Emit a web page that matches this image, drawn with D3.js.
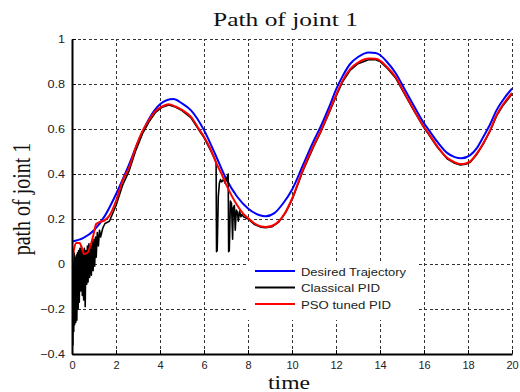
<!DOCTYPE html>
<html><head><meta charset="utf-8">
<script src="https://cdn.jsdelivr.net/npm/d3@7"></script>
<style>body{margin:0;background:#fff}svg{display:block}</style>
</head><body>
<svg id="c" width="520" height="392"></svg>
<script>
const titleText = "Path of joint 1";
const xLabel = "time";
const yLabel = "path of joint 1";
const seriesNames = ["Desired Trajectory", "Classical PID", "PSO tuned PID"];
const xTicks = [0,2,4,6,8,10,12,14,16,18,20];
const yTicks = [-0.4,-0.2,0,0.2,0.4,0.6,0.8,1];

const desired = [[0,0.10],[0.5,0.115],[1.0,0.15],[1.5,0.215],[2.0,0.31],[2.5,0.42],[3.0,0.54],[3.5,0.645],[4.0,0.71],[4.3,0.728],[4.6,0.733],[5.0,0.714],[5.4,0.684],[6.0,0.595],[6.5,0.49],[7.0,0.38],[7.5,0.30],[8.0,0.247],[8.5,0.218],[8.8,0.212],[9.2,0.226],[9.6,0.27],[10.0,0.33],[10.5,0.44],[11.0,0.55],[11.3,0.61],[11.7,0.70],[12.0,0.775],[12.3,0.835],[12.65,0.89],[13.0,0.92],[13.5,0.94],[13.8,0.938],[14.0,0.929],[14.3,0.90],[14.7,0.85],[15.1,0.78],[15.5,0.71],[16.0,0.625],[16.2,0.598],[16.6,0.544],[17.05,0.494],[17.4,0.475],[17.7,0.47],[18.1,0.484],[18.4,0.515],[18.7,0.566],[19.0,0.62],[19.3,0.684],[19.6,0.73],[20.0,0.78]];

const classical = [[0,0.0],[0.02,0.05],[0.04,-0.36],[0.06,0.04],[0.08,-0.3],[0.1,0.05],[0.12,-0.27],[0.14,0.03],[0.17,-0.26],[0.2,0.04],[0.22,-0.25],[0.25,0.05],[0.28,-0.2],[0.3,0.06],[0.33,-0.17],[0.36,0.07],[0.4,-0.12],[0.43,0.08],[0.47,-0.14],[0.5,0.06],[0.53,-0.16],[0.56,0.07],[0.6,-0.19],[0.63,0.06],[0.67,-0.09],[0.7,0.08],[0.73,-0.08],[0.77,0.09],[0.8,-0.06],[0.84,0.08],[0.88,-0.05],[0.92,0.1],[0.96,-0.03],[1.0,0.11],[1.03,-0.01],[1.07,0.12],[1.1,0.03],[1.15,0.14],[1.2,0.08],[1.25,0.15],[1.3,0.12],[1.4,0.16],[1.5,0.18],[1.7,0.19],[2.0,0.26],[2.3,0.35],[2.6,0.415],[2.9,0.505],[3.2,0.578],[3.5,0.632],[3.8,0.674],[4.1,0.697],[4.4,0.707],[4.7,0.698],[5.0,0.682],[5.4,0.651],[5.8,0.591],[6.0,0.562],[6.3,0.505],[6.5,0.465],[6.55,0.45],[6.57,0.055],[6.6,0.06],[6.65,0.30],[6.7,0.36],[6.75,0.375],[6.8,0.365],[6.85,0.37],[6.9,0.38],[6.95,0.36],[7.0,0.37],[7.05,0.385],[7.1,0.40],[7.12,0.055],[7.15,0.06],[7.2,0.28],[7.25,0.27],[7.3,0.11],[7.33,0.25],[7.38,0.26],[7.42,0.15],[7.47,0.24],[7.52,0.23],[7.56,0.19],[7.62,0.235],[7.68,0.21],[7.72,0.22],[7.8,0.21],[8.0,0.2],[8.3,0.175],[8.6,0.163],[8.8,0.161],[9.1,0.166],[9.4,0.186],[9.7,0.226],[10.0,0.285],[10.5,0.415],[11.0,0.525],[11.3,0.585],[11.7,0.675],[12.0,0.745],[12.3,0.81],[12.65,0.862],[13.0,0.89],[13.5,0.909],[13.8,0.908],[14.0,0.9],[14.3,0.873],[14.7,0.828],[15.1,0.758],[15.5,0.688],[16.0,0.605],[16.2,0.578],[16.6,0.52],[17.05,0.468],[17.4,0.448],[17.65,0.44],[17.9,0.443],[18.1,0.452],[18.4,0.487],[18.7,0.534],[19.0,0.59],[19.3,0.658],[19.6,0.706],[20.0,0.755]];

const pso = [[0,0.0],[0.1,0.07],[0.2,0.093],[0.35,0.093],[0.45,0.07],[0.55,0.045],[0.7,0.05],[0.85,0.085],[1.0,0.14],[1.1,0.178],[1.3,0.188],[1.5,0.195],[1.7,0.215],[2.0,0.28],[2.3,0.37],[2.6,0.43],[2.9,0.52],[3.2,0.59],[3.5,0.64],[3.8,0.68],[4.1,0.70],[4.4,0.71],[4.7,0.70],[5.0,0.685],[5.4,0.655],[5.8,0.595],[6.0,0.566],[6.3,0.51],[6.55,0.45],[6.8,0.40],[7.0,0.355],[7.25,0.305],[7.5,0.262],[7.8,0.222],[8.0,0.204],[8.3,0.18],[8.6,0.167],[8.8,0.165],[9.1,0.17],[9.4,0.19],[9.7,0.23],[10.0,0.29],[10.5,0.42],[11.0,0.53],[11.3,0.59],[11.7,0.68],[12.0,0.75],[12.3,0.815],[12.65,0.867],[13.0,0.895],[13.5,0.913],[13.8,0.912],[14.0,0.904],[14.3,0.877],[14.7,0.832],[15.1,0.762],[15.5,0.692],[16.0,0.609],[16.2,0.582],[16.6,0.524],[17.05,0.472],[17.4,0.452],[17.65,0.444],[17.9,0.447],[18.1,0.456],[18.4,0.491],[18.7,0.538],[19.0,0.594],[19.3,0.662],[19.6,0.71],[20.0,0.76]];

const colors = ["#0000ff", "#000000", "#ff0000"];

const svg = d3.select("#c");
const L = 72, R = 512, T = 39, B = 354;
const x = d3.scaleLinear().domain([0,20]).range([L,R]);
const y = d3.scaleLinear().domain([-0.4,1]).range([B,T]);

// grid
const grid = svg.append("g").attr("stroke","#333").attr("stroke-width",1).attr("stroke-dasharray","3,2.5").attr("shape-rendering","crispEdges");
grid.selectAll("line.v").data(xTicks.slice(1)).join("line").attr("class","v")
  .attr("x1",d=>Math.round(x(d))+0.5).attr("x2",d=>Math.round(x(d))+0.5).attr("y1",B).attr("y2",T);
grid.selectAll("line.h").data(yTicks.slice(1)).join("line").attr("class","h")
  .attr("y1",d=>Math.round(y(d))+0.5).attr("y2",d=>Math.round(y(d))+0.5).attr("x1",L).attr("x2",R);

// legend background (hides grid)
const lg = svg.append("g");
lg.append("rect").attr("x",247).attr("y",261).attr("width",169).attr("height",59).attr("fill","#fff");

// lines
svg.append("clipPath").attr("id","clip").append("rect").attr("x",L).attr("y",T-3).attr("width",R-L+3).attr("height",B-T+3);
const smooth = d3.line().x(d=>x(d[0])).y(d=>y(d[1])).curve(d3.curveMonotoneX);
const straight = d3.line().x(d=>x(d[0])).y(d=>y(d[1]));
const pg = svg.append("g").attr("clip-path","url(#clip)").attr("fill","none").attr("stroke-linejoin","round");
pg.append("path").datum(desired).attr("d",smooth).attr("stroke",colors[0]).attr("stroke-width",2);
pg.append("path").datum(classical).attr("d",straight).attr("stroke",colors[1]).attr("stroke-width",1.6);
pg.append("path").datum(pso).attr("d",smooth).attr("stroke",colors[2]).attr("stroke-width",2);

// axes
const ax = d3.axisBottom(x).tickValues(xTicks).tickFormat(d3.format("d")).tickSizeInner(-4).tickSizeOuter(0).tickPadding(7);
const ay = d3.axisLeft(y).tickValues(yTicks).tickFormat(d=>d===0?"0":d3.format("")(+d.toFixed(1))).tickSizeInner(-4).tickSizeOuter(0).tickPadding(6);
const gx = svg.append("g").attr("transform",`translate(0,${B})`).call(ax);
const gy = svg.append("g").attr("transform",`translate(${L},0)`).call(ay);
[gx,gy].forEach(g=>{
  g.select(".domain").attr("stroke","#000").attr("stroke-width",2);
  g.selectAll(".tick line").attr("stroke","#000").attr("stroke-width",1);
  g.selectAll(".tick text").attr("font-family","Arial, 'Liberation Sans', sans-serif").attr("font-size",11).attr("fill","#222");
});
gy.selectAll(".tick text").attr("transform","scale(1.15,1)");

// legend entries
seriesNames.forEach((n,i)=>{
  const yy = 271 + i*16.5;
  lg.append("line").attr("x1",255).attr("x2",295).attr("y1",yy).attr("y2",yy).attr("stroke",colors[i]).attr("stroke-width",2);
  lg.append("text").attr("x",301).attr("y",yy+4.5).text(n)
    .attr("font-family","Arial, 'Liberation Sans', sans-serif").attr("font-size",11).attr("fill","#222")
    .attr("textLength",[105,79,90][i]).attr("lengthAdjust","spacingAndGlyphs");
});

// labels
svg.append("text").attr("x",285.5).attr("y",26).attr("text-anchor","middle").text(titleText)
  .attr("font-family","'Liberation Serif', 'Times New Roman', serif").attr("font-size",19).attr("fill","#111")
  .attr("textLength",145).attr("lengthAdjust","spacingAndGlyphs");
svg.append("text").attr("x",289).attr("y",389).attr("text-anchor","middle").text(xLabel)
  .attr("font-family","'Liberation Serif', 'Times New Roman', serif").attr("font-size",19).attr("fill","#111")
  .attr("textLength",42).attr("lengthAdjust","spacingAndGlyphs");
svg.append("text").attr("transform","translate(30,199) scale(1.3,1) rotate(-90)").attr("text-anchor","middle").text(yLabel)
  .attr("font-family","'Liberation Serif', 'Times New Roman', serif").attr("font-size",20).attr("fill","#111");
</script>
</body></html>
